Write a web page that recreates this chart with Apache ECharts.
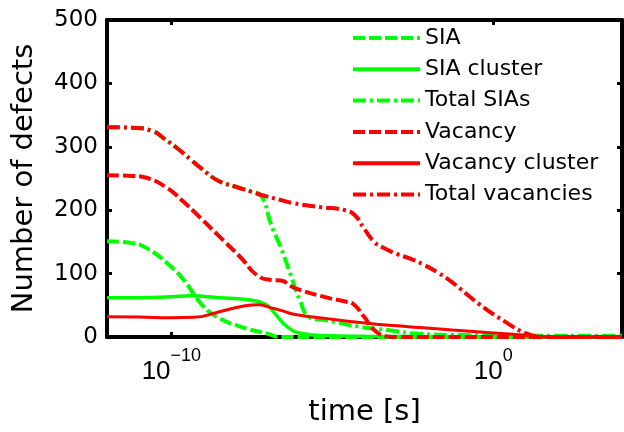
<!DOCTYPE html>
<html>
<head>
<meta charset="utf-8">
<script src="https://cdn.jsdelivr.net/npm/echarts@6/dist/echarts.min.js"></script>
<style>html,body{margin:0;padding:0;background:#fff}#c{width:624px;height:432px}</style>
</head>
<body>
<div id="c"></div>
<script>
// time values are given as log10(time [s]) exponents
const xTickExponents = [-10, 0];
const yTicks = [0, 100, 200, 300, 400, 500];
const seriesNames = ['SIA', 'SIA cluster', 'Total SIAs', 'Vacancy', 'Vacancy cluster', 'Total vacancies'];

const siaLogT = [-12, -11.2, -10.7, -10.1, -9.6, -9.07, -8.56, -7.84, -7.0, -6.6, -5, 4];
const siaN    = [151, 148, 138, 115, 89, 52, 31, 16, 5, 0, 0, 0];

const siaClusterLogT = [-12, -11, -10, -9.4, -8.5, -7.84, -7.3, -7.0, -6.8, -6.4, -5.9, -5.2, -4, -2, 4];
const siaClusterN    = [62, 62, 63.5, 65, 62, 60, 56, 49, 38, 16, 5, 2, 1, 0.5, 0];

const totalSiaLogT = [-12, -11.2, -10.6, -10.2, -9.8, -9.4, -9.07, -8.56, -8.0, -7.5, -7.2, -6.9, -6.6, -6.3, -6.0, -5.7, -5.16, -4.14, -3.3, -2.3, -1, 1, 4];
const totalSiaN    = [331, 330, 325, 312, 297, 280, 266, 247, 237, 229, 222, 177, 141, 99, 57, 31, 26, 16, 11, 5, 3, 2, 2];

const vacLogT = [-12, -11.2, -10.7, -10.1, -9.7, -9.3, -8.56, -7.84, -7.33, -6.9, -6.6, -6.2, -5.16, -4.6, -4.35, -4.0, -3.7, -3.3, -3.0, -1, 4];
const vacN    = [255, 254, 250, 234, 217, 198, 161, 125, 97, 90, 89, 78, 62, 56, 52, 31, 11, 1, 0, 0, 0];

const vacClusterLogT = [-12, -11, -10, -9.3, -8.56, -7.75, -7.3, -6.9, -6.6, -6.2, -5.16, -4.14, -3.1, -2.28, -1.27, -0.2, 0.8, 1.3, 2, 4];
const vacClusterN    = [32, 31.5, 30.5, 31, 39, 49, 51, 46, 42, 36, 29, 23, 18, 15, 11, 7, 3.5, 1, 0, 0];

const totalVacLogT = [-12, -11.2, -10.6, -10.2, -9.8, -9.4, -9.07, -8.56, -8.0, -7.5, -7.2, -6.6, -6.2, -5.4, -4.6, -4.3, -4.0, -3.7, -3.43, -3.0, -2.6, -2.2, -1.67, -1.27, -0.44, 0.4, 1.0, 1.4, 2, 4];
const totalVacN    = [331, 330, 325, 312, 297, 280, 266, 247, 237, 229, 224, 216, 211, 205, 200, 192, 170, 150, 141, 131, 124, 115, 100, 86, 52, 23, 6, 1, 0, 0];

function pairs(xs, ys) { return xs.map((x, i) => [x, ys[i]]); }

const GREEN = '#00ff00', RED = '#ff0000';
const DASH = [12, 4], DASHDOT = [13, 4, 3, 4];
const FONT = "'DejaVu Sans', sans-serif";
const FONT2 = "'Liberation Sans', Arial, sans-serif";

function mk(name, xs, ys, color, type, width) {
  return {
    name, type: 'line', data: pairs(xs, ys), symbol: 'none', showSymbol: false,
    smooth: 0.5,
    lineStyle: { color, type, width }, itemStyle: { color },
    emphasis: { disabled: true }, animation: false
  };
}

const chart = echarts.init(document.getElementById('c'), null, { renderer: 'canvas' });
chart.setOption({
  animation: false,
  grid: { left: 107, right: 2, top: 20, bottom: 92, containLabel: false },
  legend: {
    orient: 'vertical', left: 351, top: 27, padding: 0,
    itemWidth: 67, itemHeight: 16, itemGap: 9.3,
    data: seriesNames,
    itemStyle: { opacity: 0 },
    lineStyle: { width: 4 },
    textStyle: { fontFamily: FONT, fontSize: 22, color: '#000', lineHeight: 20 },
    selectedMode: false
  },
  xAxis: [{
    type: 'value', min: -12, max: 4, position: 'bottom',
    name: 'time [s]', nameLocation: 'middle', nameGap: 61,
    nameTextStyle: { fontFamily: FONT, fontSize: 29, color: '#000' },
    axisLine: { show: true, onZero: false, lineStyle: { color: '#000', width: 4 } },
    axisTick: { show: true, inside: true, length: 5, customValues: xTickExponents, lineStyle: { color: '#000', width: 3 } },
    splitLine: { show: false },
    axisLabel: {
      customValues: xTickExponents, margin: 10,
      formatter: v => '{b|10}{s|' + (v === 0 ? '0' : '\u2212' + Math.abs(v)) + '}',
      rich: {
        b: { fontFamily: FONT2, fontSize: 26, color: '#000', verticalAlign: 'bottom', padding: [12, 0, 0, 0] },
        s: { fontFamily: FONT2, fontSize: 18, color: '#000', verticalAlign: 'top' }
      }
    }
  }, {
    type: 'value', min: -12, max: 4, position: 'top',
    axisLine: { show: true, onZero: false, lineStyle: { color: '#000', width: 4 } },
    axisTick: { show: true, inside: true, length: 5, customValues: xTickExponents, lineStyle: { color: '#000', width: 3 } },
    axisLabel: { show: false }, splitLine: { show: false }
  }],
  yAxis: [{
    type: 'value', min: 0, max: 500, interval: 100, position: 'left',
    name: 'Number of defects', nameLocation: 'middle', nameGap: 68,
    nameTextStyle: { fontFamily: FONT, fontSize: 29, color: '#000' },
    axisLine: { show: true, onZero: false, lineStyle: { color: '#000', width: 4 } },
    axisTick: { show: true, inside: true, length: 5, lineStyle: { color: '#000', width: 3 } },
    splitLine: { show: false },
    axisLabel: { fontFamily: FONT, fontSize: 23, color: '#000', margin: 9,
      formatter: v => yTicks.includes(v) ? String(v) : '' }
  }, {
    type: 'value', min: 0, max: 500, interval: 100, position: 'right',
    axisLine: { show: true, onZero: false, lineStyle: { color: '#000', width: 4 } },
    axisTick: { show: true, inside: true, length: 5, lineStyle: { color: '#000', width: 3 } },
    axisLabel: { show: false }, splitLine: { show: false }
  }],
  series: [
    mk('SIA', siaLogT, siaN, GREEN, DASH, 4),
    mk('SIA cluster', siaClusterLogT, siaClusterN, GREEN, 'solid', 3.5),
    mk('Total SIAs', totalSiaLogT, totalSiaN, GREEN, DASHDOT, 4),
    mk('Vacancy', vacLogT, vacN, RED, DASH, 4),
    mk('Vacancy cluster', vacClusterLogT, vacClusterN, RED, 'solid', 3),
    mk('Total vacancies', totalVacLogT, totalVacN, RED, DASHDOT, 4)
  ]
});
</script>
</body>
</html>
